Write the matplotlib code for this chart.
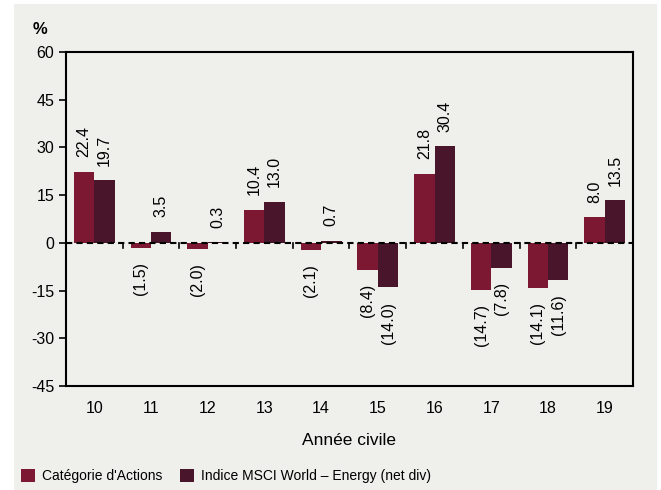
import numpy as np
import matplotlib.pyplot as plt
from matplotlib.patches import Rectangle

years = ['10', '11', '12', '13', '14', '15', '16', '17', '18', '19']
categorie = [22.4, -1.5, -2.0, 10.4, -2.1, -8.4, 21.8, -14.7, -14.1, 8.0]
indice = [19.7, 3.5, 0.3, 13.0, 0.7, -14.0, 30.4, -7.8, -11.6, 13.5]
yticks = [-45, -30, -15, 0, 15, 30, 45, 60]

c1 = '#7d1832'
c2 = '#48152a'
bg = '#efefeb'

plt.rcParams['font.family'] = ['Liberation Sans', 'DejaVu Sans']
plt.rcParams['axes.unicode_minus'] = False

fig = plt.figure(figsize=(6.61, 4.9), dpi=100)
fig.patches.append(Rectangle((14 / 661, 0), 643 / 661, 486 / 490, transform=fig.transFigure,
                             facecolor=bg, edgecolor='none', zorder=-10))
ax = fig.add_axes([0.0998, 0.2122, 0.8578, 0.6817])
ax.set_facecolor(bg)

x = np.arange(len(years))
w = 0.36
ax.bar(x - w / 2, categorie, w, color=c1, zorder=2, label="Catégorie d'Actions")
ax.bar(x + w / 2, indice, w, color=c2, zorder=2, label='Indice MSCI World – Energy (net div)')

ax.axhline(0, color='black', lw=1.5, ls=(0, (3, 2)), zorder=3)
# petites graduations sur l'axe zéro
for b in np.arange(0.5, len(years) - 1, 1):
    ax.plot([b, b], [0, -1.6], color='black', lw=1.2, zorder=3)

def fmt(v):
    return f'{v:.1f}' if v >= 0 else f'({abs(v):.1f})'

for vals, off in ((categorie, -w / 2), (indice, w / 2)):
    for xi, v in zip(x, vals):
        if v >= 0:
            ax.text(xi + off, v + 4.5, fmt(v), rotation=90, ha='center', va='bottom', fontsize=11.5)
        else:
            ax.text(xi + off, v - 4.5, fmt(v), rotation=90, ha='center', va='top', fontsize=11.5)

ax.set_xlim(-0.5, len(years) - 0.5)
ax.set_ylim(-45, 60)
ax.set_yticks(yticks)
ax.set_xticks(x)
ax.set_xticklabels(years)
ax.tick_params(axis='x', length=0, labelsize=11.5, pad=11)
ax.tick_params(axis='y', length=5, width=1.2, labelsize=11.5, direction='out')
for s in ax.spines.values():
    s.set_linewidth(1.5)

ax.set_xlabel('Année civile', fontsize=12.5, labelpad=12)
fig.text(40 / 661, 1 - 30 / 490, '%', fontsize=12, fontweight='bold', ha='center', va='center')

fig.legend(loc='center left', bbox_to_anchor=(21 / 661, 14 / 490), ncol=2, frameon=False,
           fontsize=10, handlelength=1.0, handleheight=1.05, handletextpad=0.5,
           columnspacing=1.3, borderaxespad=0, borderpad=0)

fig.savefig('out.png', dpi=100, facecolor='white')
